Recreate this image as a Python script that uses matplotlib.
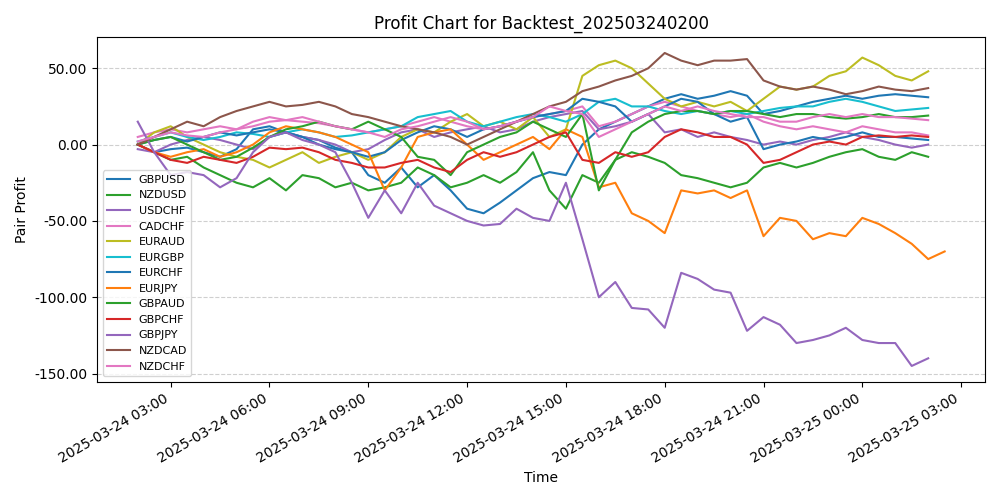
import numpy as np
import pandas as pd
import matplotlib
matplotlib.use("Agg")
import matplotlib.pyplot as plt
import matplotlib.dates as mdates
from matplotlib.ticker import FormatStrFormatter

start = pd.Timestamp("2025-03-24 02:00")

gbpusd = [0,-5,-3,-2,-5,-8,-3,10,12,8,5,3,-2,-5,-20,-25,-15,-28,-20,-30,-42,-45,-38,-30,-22,-18,-20,0,10,15,20,25,30,33,30,32,35,32,20,22,25,28,30,32,30,32,33,32,31]
nzdusd = [0,-5,-10,-8,-15,-20,-25,-28,-22,-30,-20,-22,-28,-25,-30,-28,-25,-15,-20,-28,-25,-20,-25,-18,-5,-30,-42,-20,-25,-10,-5,-8,-12,-20,-22,-25,-28,-25,-15,-12,-15,-12,-8,-5,-3,-8,-10,-5,-8]
usdchf = [-3,-5,0,3,5,3,0,-3,5,8,5,3,0,-5,-3,3,8,10,5,8,10,12,8,10,15,18,20,22,10,12,15,20,8,10,5,8,5,3,0,2,0,3,5,8,5,3,0,-2,0]
cadchf = [5,8,10,8,10,12,10,15,18,16,15,14,12,10,8,10,12,15,18,15,12,10,12,15,18,20,22,25,12,15,20,25,28,25,22,20,18,20,15,12,10,12,10,8,12,10,8,8,6]
euraud = [0,8,12,5,0,-5,-8,-10,-15,-10,-5,-12,-8,-5,-10,-5,5,10,8,15,20,12,15,10,18,5,10,45,52,55,50,40,30,25,28,25,28,22,30,38,36,38,45,48,57,52,45,42,48]
eurgbp = [2,5,8,5,3,5,8,7,5,8,10,8,5,6,8,10,12,18,20,22,15,12,15,18,20,18,15,20,28,30,25,25,22,20,22,20,22,20,22,24,25,25,28,30,28,25,22,23,24]
eurchf = [0,3,5,2,5,8,6,8,10,8,5,0,-3,-5,-8,-5,3,8,12,10,5,10,12,15,18,20,22,30,28,25,15,20,25,30,28,20,15,18,-3,0,2,5,3,5,8,5,5,4,3]
eurjpy = [0,-5,-8,-5,-3,-8,-5,0,8,12,10,8,5,0,-5,-30,-15,5,8,10,0,-10,-5,0,5,-3,10,5,-28,-25,-45,-50,-58,-30,-32,-30,-35,-30,-60,-48,-50,-62,-58,-60,-48,-52,-58,-65,-75,-70]
gbpaud = [0,3,5,0,-5,-10,-8,-2,5,10,12,15,12,10,15,10,5,-8,-10,-20,-5,0,5,8,15,10,5,20,-30,-10,8,15,20,22,22,20,22,22,20,18,20,20,18,17,18,20,18,18,19]
gbpchf = [0,-5,-10,-12,-8,-10,-12,-8,-2,-3,-2,-5,-10,-12,-15,-15,-12,-10,-15,-18,-10,-5,-8,-5,0,5,8,-10,-12,-5,-8,-5,5,10,8,5,5,0,-12,-10,-5,0,2,0,5,6,5,6,5]
gbpjpy = [15,-5,-20,-18,-20,-28,-22,-5,5,8,3,0,-5,-25,-48,-30,-45,-25,-40,-45,-50,-53,-52,-42,-48,-50,-25,-62,-100,-90,-107,-108,-120,-84,-88,-95,-97,-122,-113,-118,-130,-128,-125,-120,-128,-130,-130,-145,-140]
nzdcad = [0,5,10,15,12,18,22,25,28,25,26,28,25,20,18,15,12,10,8,5,0,5,10,15,20,25,28,35,38,42,45,50,60,55,52,55,55,56,42,38,36,38,36,33,35,38,36,35,37]
nzdchf = [2,5,8,6,5,8,10,12,15,16,18,15,12,10,8,5,10,12,15,18,15,10,12,15,18,25,22,20,5,10,15,20,25,22,25,22,20,18,18,15,15,18,20,18,20,18,18,17,16]

series = [
    ("GBPUSD", gbpusd, "tab:blue"),
    ("NZDUSD", nzdusd, "tab:green"),
    ("USDCHF", usdchf, "tab:purple"),
    ("CADCHF", cadchf, "tab:pink"),
    ("EURAUD", euraud, "tab:olive"),
    ("EURGBP", eurgbp, "tab:cyan"),
    ("EURCHF", eurchf, "tab:blue"),
    ("EURJPY", eurjpy, "tab:orange"),
    ("GBPAUD", gbpaud, "tab:green"),
    ("GBPCHF", gbpchf, "tab:red"),
    ("GBPJPY", gbpjpy, "tab:purple"),
    ("NZDCAD", nzdcad, "tab:brown"),
    ("NZDCHF", nzdchf, "tab:pink"),
]

fig, ax = plt.subplots(figsize=(10, 5), dpi=100)
for name, vals, col in series:
    t = start + pd.to_timedelta(np.arange(len(vals)) * 30, unit="min")
    ax.plot(t, vals, color=col, label=name, linewidth=1.5)

ax.set_title("Profit Chart for Backtest_202503240200")
ax.set_xlabel("Time")
ax.set_ylabel("Pair Profit")
ax.yaxis.set_major_formatter(FormatStrFormatter("%.2f"))
ax.xaxis.set_major_locator(mdates.HourLocator(byhour=range(0, 24, 3)))
ax.xaxis.set_major_formatter(mdates.DateFormatter("%Y-%m-%d %H:%M"))
ax.grid(True, axis="y", linestyle="--", alpha=0.6)
ax.legend(loc="lower left", fontsize=8)
fig.autofmt_xdate()
fig.tight_layout()
fig.savefig("out.png")
